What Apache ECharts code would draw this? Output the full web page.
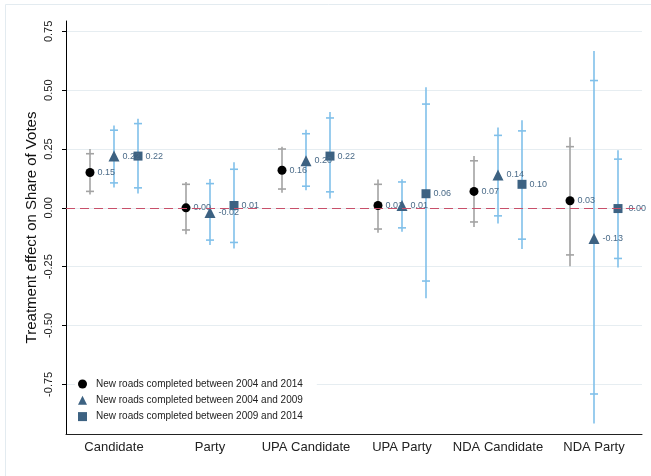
<!DOCTYPE html>
<html>
<head>
<meta charset="utf-8">
<title>Treatment effect on Share of Votes</title>
<script src="https://cdn.jsdelivr.net/npm/echarts@6/dist/echarts.min.js"></script>
<style>
	html, body { margin: 0; padding: 0; background: #fff; }
	#chart { width: 651px; height: 476px; }
</style>
</head>
<body>
<div id="chart"></div>
<script>
'use strict';

// categories and y ticks
var categories = ['Candidate', 'Party', 'UPA Candidate', 'UPA Party', 'NDA Candidate', 'NDA Party'];
var yTicks = [-0.75, -0.5, -0.25, 0, 0.25, 0.5, 0.75];
var seriesNames = [
	'New roads completed between 2004 and 2014',
	'New roads completed between 2004 and 2009',
	'New roads completed between 2009 and 2014'
];

// 2004-2014 (circle)
var est1  = [0.15, 0.00, 0.16, 0.01, 0.07, 0.03];
var hi95a = [0.25, 0.11, 0.26, 0.12, 0.22, 0.30];
var hi90a = [0.23, 0.10, 0.25, 0.10, 0.20, 0.26];
var lo90a = [0.07, -0.094, 0.08, -0.09, -0.06, -0.20];
var lo95a = [0.057, -0.112, 0.064, -0.106, -0.081, -0.248];

// 2004-2009 (triangle)
var est2  = [0.22, -0.02, 0.20, 0.01, 0.14, -0.13];
var hi95b = [0.35, 0.123, 0.332, 0.122, 0.341, 0.666];
var hi90b = [0.33, 0.103, 0.315, 0.110, 0.308, 0.541];
var lo90b = [0.106, -0.137, 0.092, -0.085, -0.034, -0.791];
var lo95b = [0.086, -0.158, 0.075, -0.102, -0.067, -0.916];

// 2009-2014 (square)
var est3  = [0.22, 0.01, 0.22, 0.06, 0.10, -0.003];
var hi95c = [0.379, 0.194, 0.407, 0.512, 0.372, 0.245];
var hi90c = [0.358, 0.164, 0.382, 0.441, 0.327, 0.207];
var lo90c = [0.085, -0.147, 0.068, -0.311, -0.133, -0.215];
var lo95c = [0.061, -0.173, 0.040, -0.384, -0.175, -0.253];

var coefPlot = (function() {

	var FONT = '"Liberation Sans", Arial, sans-serif';
	var SLATE = '#3d6282';
	var GRAY = '#a3a3a3';
	var BLUE = '#80c0ea';

	// error bar: spike to the 95% CI, small caps at the 90% CI
	function ciSeries(name, lo95, hi95, lo90, hi90, offset, color) {
		var rows = [];
		for (var i = 0; i < categories.length; i++) {
			rows.push([i, lo95[i], hi95[i], lo90[i], hi90[i]]);
		}
		return {
			name: name,
			type: 'custom',
			z: 2,
			silent: true,
			encode: { x: 0, y: [1, 2] },
			data: rows,
			renderItem: function(params, api) {
				var idx = api.value(0);
				var x = api.coord([idx, 0])[0] + offset;
				var yLo = api.coord([idx, api.value(1)])[1];
				var yHi = api.coord([idx, api.value(2)])[1];
				var cLo = api.coord([idx, api.value(3)])[1];
				var cHi = api.coord([idx, api.value(4)])[1];
				var st = { stroke: color, lineWidth: 1.6 };
				return {
					type: 'group',
					children: [
						{ type: 'line', shape: { x1: x, y1: yLo, x2: x, y2: yHi }, style: st },
						{ type: 'line', shape: { x1: x - 4, y1: cLo, x2: x + 4, y2: cLo }, style: st },
						{ type: 'line', shape: { x1: x - 4, y1: cHi, x2: x + 4, y2: cHi }, style: st }
					]
				};
			}
		};
	}

	function pointSeries(name, values, symbol, size, offset, color) {
		return {
			name: name,
			type: 'scatter',
			z: 4,
			symbol: symbol,
			symbolSize: size,
			symbolOffset: [offset, 0],
			itemStyle: { color: color, opacity: 1 },
			label: {
				show: true,
				position: 'right',
				distance: 3,
				fontFamily: FONT,
				fontSize: 9,
				color: '#4b6b88',
				formatter: function(p) {
					return p.value.toFixed(2);
				}
			},
			data: values
		};
	}

	function buildChart() {
		var myChart = echarts.init(document.getElementById('chart'), null, { renderer: 'canvas' });

		var zeroLine = ciSeries('ci1', lo95a, hi95a, lo90a, hi90a, -24, GRAY);
		zeroLine.markLine = {
			silent: true,
			symbol: 'none',
			label: { show: false },
			lineStyle: { color: '#c8506a', type: [9, 5], width: 1.2 },
			data: [{ yAxis: 0 }]
		};
		zeroLine.z = 1;

		var option = {
			backgroundColor: '#fff',
			animation: false,
			textStyle: { fontFamily: FONT },
			graphic: [{
				type: 'rect',
				silent: true,
				shape: { x: 5.5, y: 4.5, width: 700, height: 500 },
				style: { fill: 'none', stroke: '#e3ebf0', lineWidth: 1 }
			}],
			grid: { left: 66, right: 9, top: 21, bottom: 42 },
			legend: {
				orient: 'vertical',
				left: 75,
				top: 373,
				padding: [5, 14, 5, 3],
				backgroundColor: '#fff',
				itemWidth: 9,
				itemHeight: 9,
				itemGap: 4.3,
				textStyle: { fontFamily: FONT, fontSize: 10, color: '#222', lineHeight: 12, padding: [0, 0, 0, 4] },
				data: [
					{ name: seriesNames[0], icon: 'circle' },
					{ name: seriesNames[1], icon: 'triangle' },
					{ name: seriesNames[2], icon: 'rect' }
				]
			},
			xAxis: {
				type: 'category',
				data: categories,
				boundaryGap: true,
				axisLine: { onZero: false, lineStyle: { color: '#222', width: 1 } },
				axisTick: { alignWithLabel: true, length: 5, lineStyle: { color: '#222' } },
				axisLabel: { interval: 0, fontFamily: FONT, fontSize: 13, color: '#222', margin: 7 },
				splitLine: { show: false }
			},
			yAxis: {
				type: 'value',
				min: -0.961,
				max: 0.794,
				name: 'Treatment effect on Share of Votes',
				nameLocation: 'middle',
				nameMoveOverlap: false,
				nameGap: 27,
				nameTextStyle: { fontFamily: FONT, fontSize: 15, color: '#111' },
				axisLine: { show: true, lineStyle: { color: '#000', width: 1 } },
				axisTick: { show: true, length: 4, customValues: yTicks, lineStyle: { color: '#000' } },
				axisLabel: {
					customValues: yTicks,
					rotate: 90,
					margin: 12,
					fontFamily: FONT,
					fontSize: 11,
					color: '#222',
					formatter: function(v) { return v.toFixed(2); }
				},
				splitLine: { show: true, lineStyle: { color: '#e6edf1', width: 1.2 } }
			},
			series: [
				zeroLine,
				ciSeries('ci2', lo95b, hi95b, lo90b, hi90b, 0, BLUE),
				ciSeries('ci3', lo95c, hi95c, lo90c, hi90c, 24, BLUE),
				pointSeries(seriesNames[0], est1, 'circle', 9, -24, '#000'),
				pointSeries(seriesNames[1], est2, 'triangle', 11, 0, SLATE),
				pointSeries(seriesNames[2], est3, 'rect', 9, 24, SLATE)
			]
		};

		myChart.setOption(option);
	}

	function OnLoadPage() {
		buildChart();
	}

	return {
		OnLoadPage: OnLoadPage
	};
})();

window.onload = function() {
	coefPlot.OnLoadPage();
};
</script>
</body>
</html>
